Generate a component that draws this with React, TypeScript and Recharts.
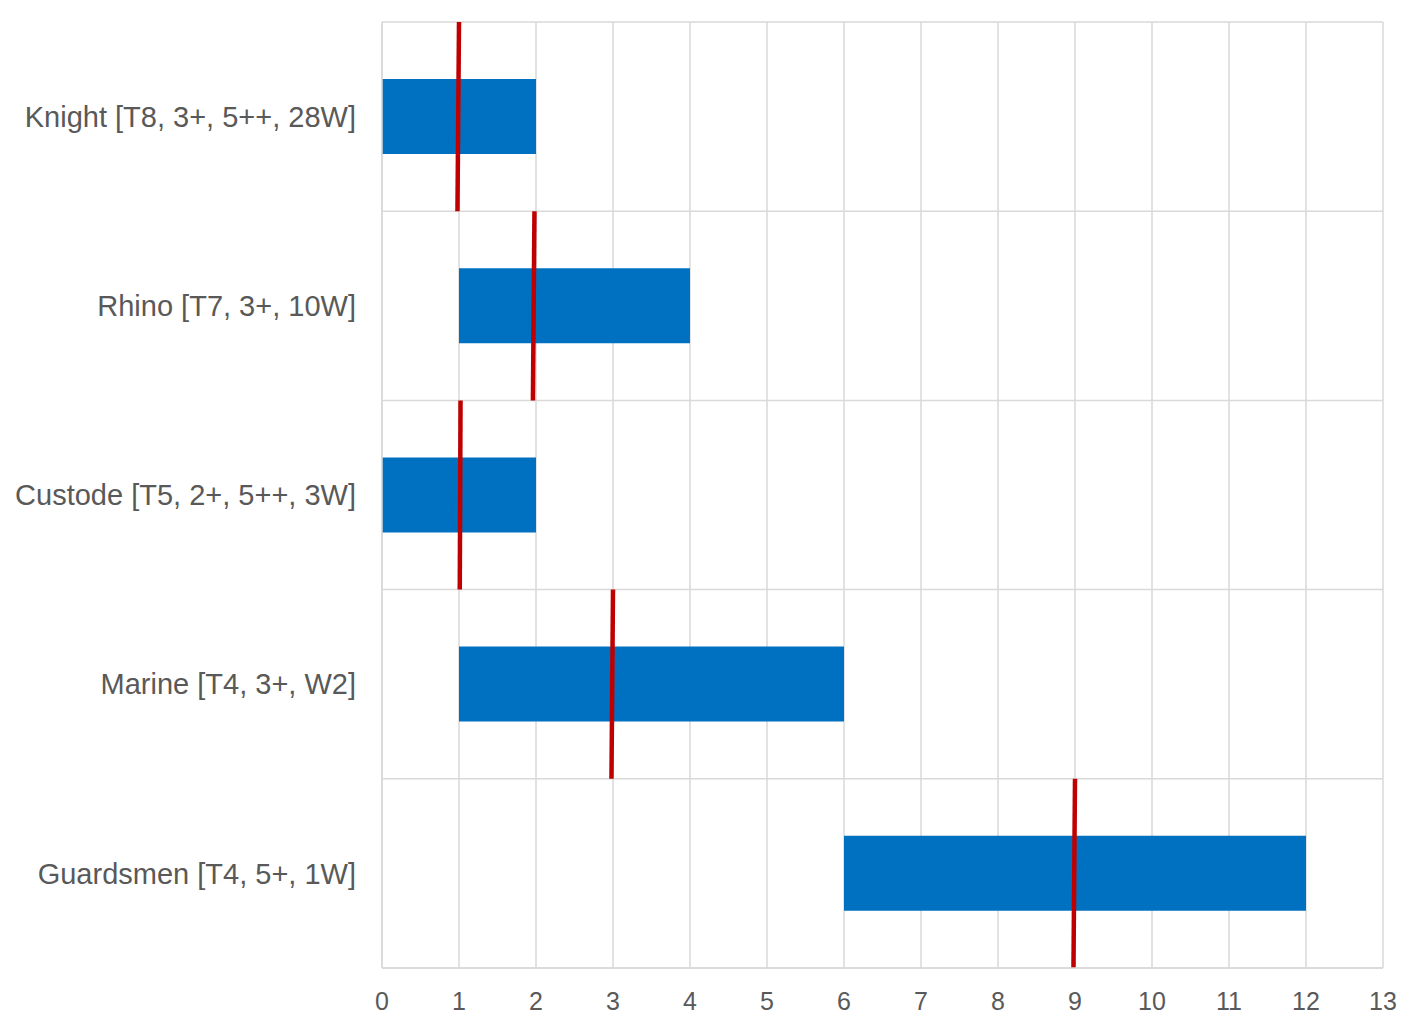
import { ComposedChart, Bar, XAxis, YAxis, CartesianGrid, ReferenceLine } from "recharts";

const units = [
  "Knight [T8, 3+, 5++, 28W]",
  "Rhino [T7, 3+, 10W]",
  "Custode [T5, 2+, 5++, 3W]",
  "Marine [T4, 3+, W2]",
  "Guardsmen [T4, 5+, 1W]",
];
const rangeLow = [0, 1, 0, 1, 6];
const rangeHigh = [2, 4, 2, 6, 12];
// red marker, read slightly slanted: value at top and bottom of each row
const markTop = [1.0, 1.98, 1.02, 3.0, 9.0];
const markBottom = [0.98, 1.96, 1.01, 2.98, 8.98];
const xTicks = [0, 1, 2, 3, 4, 5, 6, 7, 8, 9, 10, 11, 12, 13];

const data = units.map((name, i) => ({ name, range: [rangeLow[i], rangeHigh[i]] }));
const last = units.length - 1;

const GRID = "#d9d9d9";
const TEXT = "#595959";

export default function App() {
  return (
    <div style={{ position: "absolute", left: 0, top: 0, width: 1422, height: 1032, background: "#fff", fontFamily: "'Liberation Sans', Arial, sans-serif" }}>
      <ComposedChart
        width={1422}
        height={1032}
        data={data}
        layout="vertical"
        margin={{ top: 22, right: 39, bottom: 0, left: 0 }}
      >
        <CartesianGrid horizontal={false} stroke={GRID} strokeWidth={1.5} />
        {units.map((u) => (
          <ReferenceLine key={"g" + u} y={u} position="start" stroke={GRID} strokeWidth={1.5} />
        ))}
        <ReferenceLine y={units[last]} position="end" stroke={GRID} strokeWidth={1.5} />
        <XAxis
          type="number"
          domain={[0, 13]}
          ticks={xTicks}
          interval={0}
          height={64}
          tickLine={false}
          tickSize={0}
          tickMargin={24}
          axisLine={{ stroke: GRID, strokeWidth: 1.5 }}
          tick={{ fill: TEXT, fontSize: 25 }}
        />
        <YAxis
          type="category"
          dataKey="name"
          width={382}
          tickLine={false}
          tickSize={0}
          tickMargin={26}
          axisLine={{ stroke: GRID, strokeWidth: 1.5 }}
          tick={{ fill: TEXT, fontSize: 29 }}
        />
        <Bar dataKey="range" fill="#0070C0" barSize={75} isAnimationActive={false} />
        {units.map((u, i) =>
          i < last ? (
            <ReferenceLine
              key={u}
              position="start"
              segment={[
                { x: markTop[i], y: u },
                { x: markBottom[i], y: units[i + 1] },
              ]}
              stroke="#C00000"
              strokeWidth={4.5}
            />
          ) : (
            <ReferenceLine
              key={u}
              position="end"
              segment={[
                { x: markTop[i], y: units[i - 1] },
                { x: markBottom[i], y: u },
              ]}
              stroke="#C00000"
              strokeWidth={4.5}
            />
          )
        )}
      </ComposedChart>
    </div>
  );
}
